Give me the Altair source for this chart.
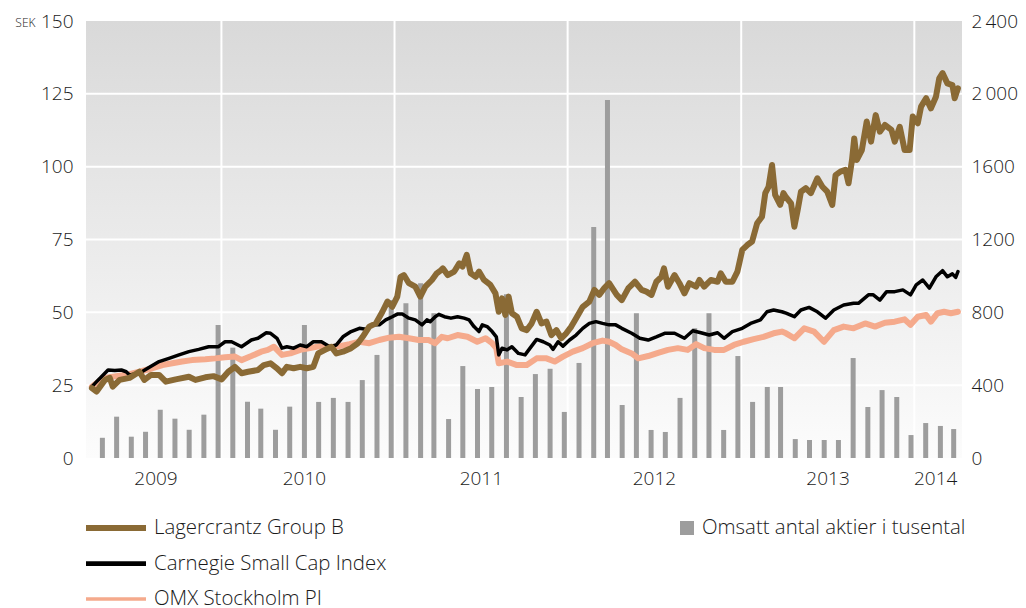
import altair as alt
import pandas as pd

FONT = "Open Sans"
FONT_WEIGHT = 300
TEXT_COLOR = "#1a1a1a"
TICK_FONT_SIZE = 19
LEGEND_FONT_SIZE = 20.4

SERIES = ["Lagercrantz Group B", "Carnegie Small Cap Index", "OMX Stockholm PI"]
COLORS = ["#8a6a35", "#000000", "#f5aa8c"]
LINE_WIDTHS = [6, 3.5, 6]
BAR_LABEL = "Omsatt antal aktier i tusental"

# (decimal year, SEK / index value)
LAGER = [
    (2009.252, 24.0), (2009.279, 22.8), (2009.327, 26.8), (2009.355, 27.5), (2009.372, 24.5),
    (2009.412, 26.8), (2009.469, 27.5), (2009.526, 29.6), (2009.555, 26.8), (2009.593, 28.5),
    (2009.640, 28.5), (2009.679, 26.2), (2009.736, 27.0), (2009.812, 27.9), (2009.850, 26.8),
    (2009.907, 27.7), (2009.954, 28.1), (2010.002, 27.0), (2010.040, 29.6), (2010.078, 31.3),
    (2010.116, 29.1), (2010.154, 29.6), (2010.211, 30.2), (2010.245, 31.9), (2010.284, 32.5),
    (2010.321, 30.8), (2010.350, 29.1), (2010.378, 31.3), (2010.417, 30.8), (2010.455, 31.3),
    (2010.493, 30.8), (2010.531, 31.3), (2010.559, 35.9), (2010.598, 37.1), (2010.635, 38.2),
    (2010.664, 35.9), (2010.702, 36.5), (2010.749, 37.7), (2010.788, 39.4), (2010.816, 41.6),
    (2010.854, 45.1), (2010.892, 46.2), (2010.930, 50.2), (2010.959, 53.7), (2010.987, 51.9),
    (2011.016, 55.4), (2011.035, 62.2), (2011.054, 62.8), (2011.083, 60.0), (2011.120, 58.8),
    (2011.149, 55.4), (2011.178, 58.8), (2011.216, 61.1), (2011.244, 63.4), (2011.269, 64.5),
    (2011.279, 65.1), (2011.307, 62.8), (2011.345, 64.0), (2011.374, 66.8), (2011.393, 65.7),
    (2011.417, 69.7), (2011.440, 63.4), (2011.469, 62.2), (2011.488, 64.0), (2011.517, 61.1),
    (2011.554, 59.4), (2011.583, 56.5), (2011.602, 50.2), (2011.621, 54.8), (2011.640, 49.1),
    (2011.659, 55.4), (2011.678, 49.7), (2011.707, 48.5), (2011.735, 44.5), (2011.764, 43.9),
    (2011.792, 46.2), (2011.821, 50.2), (2011.849, 46.2), (2011.878, 46.8), (2011.906, 42.2),
    (2011.935, 43.9), (2011.963, 41.1), (2011.992, 42.8), (2012.021, 45.1), (2012.049, 48.0),
    (2012.087, 51.9), (2012.125, 53.7), (2012.154, 57.7), (2012.182, 56.0), (2012.211, 58.3),
    (2012.239, 60.0), (2012.283, 56.0), (2012.312, 54.2), (2012.350, 58.3), (2012.388, 60.5),
    (2012.426, 57.7), (2012.454, 57.1), (2012.483, 56.0), (2012.511, 60.5), (2012.540, 62.2),
    (2012.555, 65.1), (2012.578, 58.8), (2012.616, 62.8), (2012.644, 60.0), (2012.673, 56.5),
    (2012.701, 60.0), (2012.740, 58.8), (2012.759, 61.1), (2012.787, 58.8), (2012.825, 61.1),
    (2012.864, 60.5), (2012.882, 63.4), (2012.911, 60.5), (2012.949, 60.5), (2012.978, 64.0),
    (2013.006, 71.4), (2013.035, 73.1), (2013.063, 74.3), (2013.092, 80.6), (2013.120, 82.8),
    (2013.139, 90.9), (2013.158, 93.1), (2013.178, 100.6), (2013.196, 90.3), (2013.225, 86.9),
    (2013.244, 90.9), (2013.259, 89.5), (2013.288, 87.4), (2013.307, 79.4), (2013.326, 85.1),
    (2013.345, 91.4), (2013.373, 92.6), (2013.402, 90.9), (2013.440, 96.0), (2013.469, 93.1),
    (2013.497, 91.4), (2013.526, 86.9), (2013.545, 97.1), (2013.573, 98.3), (2013.602, 98.9),
    (2013.620, 94.3), (2013.640, 102.3), (2013.653, 109.7), (2013.668, 102.3), (2013.697, 105.7),
    (2013.725, 115.5), (2013.750, 108.6), (2013.777, 117.7), (2013.801, 112.0), (2013.830, 114.3),
    (2013.868, 112.6), (2013.887, 108.6), (2013.916, 113.7), (2013.944, 105.7), (2013.973, 105.7),
    (2013.991, 117.2), (2014.020, 114.9), (2014.039, 120.6), (2014.068, 123.5), (2014.096, 120.0),
    (2014.125, 124.0), (2014.144, 130.3), (2014.163, 132.1), (2014.191, 128.6), (2014.220, 128.0),
    (2014.233, 123.5), (2014.252, 126.9),
]

CARNEGIE = [
    (2009.252, 24.5), (2009.279, 26.2), (2009.317, 28.5), (2009.345, 30.2), (2009.384, 30.0),
    (2009.422, 30.2), (2009.450, 29.6), (2009.469, 28.5), (2009.526, 29.1), (2009.574, 30.8),
    (2009.640, 33.1), (2009.697, 34.2), (2009.755, 35.4), (2009.812, 36.5), (2009.869, 37.3),
    (2009.926, 38.2), (2009.983, 38.2), (2010.021, 39.9), (2010.059, 39.9), (2010.116, 38.2),
    (2010.173, 40.5), (2010.211, 41.1), (2010.259, 43.0), (2010.284, 42.8), (2010.321, 41.1),
    (2010.350, 37.7), (2010.378, 38.2), (2010.417, 37.7), (2010.455, 38.8), (2010.493, 38.2),
    (2010.531, 39.9), (2010.578, 39.9), (2010.626, 38.2), (2010.664, 38.8), (2010.702, 41.6),
    (2010.749, 43.4), (2010.797, 44.5), (2010.835, 44.2), (2010.873, 45.7), (2010.912, 45.7),
    (2010.949, 47.4), (2010.987, 48.5), (2011.016, 49.4), (2011.045, 49.4), (2011.083, 48.0),
    (2011.120, 47.4), (2011.159, 45.7), (2011.187, 47.4), (2011.206, 46.8), (2011.235, 48.5),
    (2011.256, 49.3), (2011.288, 48.5), (2011.326, 48.0), (2011.364, 48.5), (2011.402, 48.0),
    (2011.431, 47.4), (2011.459, 45.1), (2011.488, 43.4), (2011.507, 45.7), (2011.535, 45.1),
    (2011.564, 43.4), (2011.588, 41.6), (2011.602, 35.4), (2011.621, 37.7), (2011.650, 37.1),
    (2011.678, 38.2), (2011.716, 35.9), (2011.754, 35.4), (2011.783, 37.7), (2011.821, 40.7),
    (2011.859, 39.9), (2011.897, 38.8), (2011.916, 37.3), (2011.945, 39.9), (2011.973, 38.4),
    (2012.011, 40.5), (2012.049, 42.2), (2012.087, 44.5), (2012.125, 46.2), (2012.163, 46.8),
    (2012.201, 46.2), (2012.239, 45.7), (2012.277, 45.7), (2012.312, 44.5), (2012.369, 42.8),
    (2012.416, 41.1), (2012.464, 40.5), (2012.511, 41.6), (2012.559, 42.8), (2012.616, 42.8),
    (2012.673, 41.1), (2012.721, 43.7), (2012.768, 43.0), (2012.816, 42.2), (2012.864, 43.0),
    (2012.901, 41.1), (2012.949, 43.4), (2013.006, 44.5), (2013.054, 46.2), (2013.111, 47.4),
    (2013.149, 50.2), (2013.187, 50.8), (2013.235, 50.2), (2013.259, 49.7), (2013.307, 48.5),
    (2013.345, 50.8), (2013.392, 51.7), (2013.440, 50.2), (2013.487, 48.0), (2013.535, 50.8),
    (2013.592, 52.5), (2013.649, 53.1), (2013.677, 53.1), (2013.735, 56.0), (2013.763, 56.0),
    (2013.801, 54.2), (2013.840, 57.1), (2013.887, 57.1), (2013.934, 57.7), (2013.978, 56.0),
    (2014.011, 59.4), (2014.049, 61.1), (2014.087, 58.3), (2014.125, 62.2), (2014.163, 64.3),
    (2014.191, 62.2), (2014.220, 63.2), (2014.239, 62.0), (2014.252, 64.0),
]

OMX = [
    (2009.252, 24.5), (2009.317, 27.4), (2009.393, 28.1), (2009.469, 28.8), (2009.526, 29.6),
    (2009.602, 30.8), (2009.659, 31.9), (2009.716, 32.5), (2009.773, 33.1), (2009.830, 33.6),
    (2009.907, 33.9), (2009.964, 34.2), (2010.021, 34.6), (2010.078, 34.8), (2010.116, 33.6),
    (2010.173, 35.0), (2010.230, 36.5), (2010.268, 37.1), (2010.303, 38.2), (2010.350, 35.4),
    (2010.398, 35.9), (2010.455, 37.1), (2010.512, 37.7), (2010.569, 38.4), (2010.626, 38.0),
    (2010.683, 38.4), (2010.740, 39.1), (2010.797, 39.9), (2010.854, 39.4), (2010.912, 40.5),
    (2010.969, 41.3), (2011.026, 41.6), (2011.083, 41.1), (2011.140, 40.5), (2011.197, 40.5),
    (2011.235, 39.4), (2011.273, 41.6), (2011.307, 41.1), (2011.364, 42.2), (2011.421, 41.6),
    (2011.478, 39.9), (2011.526, 41.1), (2011.564, 39.4), (2011.588, 37.7), (2011.602, 32.5),
    (2011.650, 33.1), (2011.707, 31.9), (2011.764, 31.9), (2011.821, 34.2), (2011.878, 34.2),
    (2011.925, 33.1), (2011.973, 34.8), (2012.030, 36.5), (2012.087, 37.7), (2012.144, 39.4),
    (2012.201, 40.3), (2012.239, 39.9), (2012.277, 38.8), (2012.312, 37.3), (2012.369, 35.9),
    (2012.407, 34.2), (2012.464, 35.0), (2012.521, 36.1), (2012.578, 37.1), (2012.635, 37.7),
    (2012.692, 37.1), (2012.740, 39.1), (2012.787, 37.7), (2012.844, 37.1), (2012.901, 37.1),
    (2012.958, 38.8), (2013.015, 39.9), (2013.072, 40.8), (2013.129, 41.6), (2013.187, 42.8),
    (2013.235, 43.4), (2013.259, 42.8), (2013.307, 41.1), (2013.364, 44.5), (2013.421, 43.4),
    (2013.478, 39.9), (2013.535, 43.9), (2013.592, 45.1), (2013.649, 44.5), (2013.716, 46.2),
    (2013.773, 45.1), (2013.830, 46.4), (2013.887, 46.8), (2013.944, 47.6), (2013.978, 45.7),
    (2014.020, 48.5), (2014.068, 49.1), (2014.096, 46.8), (2014.134, 49.7), (2014.172, 50.2),
    (2014.211, 49.7), (2014.252, 50.2),
]

# monthly traded volume (thousand shares), April 2009 - March 2014
VOL_FIRST_MONTH = "2009-04-01"
VOLUMES = [
    111, 227, 117, 144, 265, 216, 155, 238, 730,
    606, 309, 271, 155, 282, 730, 308, 330, 308, 428, 566, 868,
    850, 960, 795, 214, 505, 379, 390, 900, 335, 461, 490, 253,
    522, 1268, 1966, 291, 795, 154, 143, 330, 712, 795, 154, 560,
    308, 390, 390, 104, 99, 99, 99, 549, 280, 373, 335, 126,
    192, 176, 159,
]

YEAR_BOUNDS = ["2010-01-01", "2011-01-01", "2012-01-01", "2013-01-01", "2014-01-01"]
YEAR_LABEL_POS = [(2009, 8, 15), (2010, 6, 24), (2011, 7, 2), (2012, 7, 1), (2013, 7, 2), (2014, 2, 14)]
PRICE_TICKS = [0, 25, 50, 75, 100, 125, 150]
VOLUME_TICKS = [0, 400, 800, 1200, 1600, 2000, 2400]


def dec_to_iso(t):
    y = int(t)
    start = pd.Timestamp(year=y, month=1, day=1)
    end = pd.Timestamp(year=y + 1, month=1, day=1)
    return (start + (end - start) * (t - y)).strftime("%Y-%m-%dT%H:%M:%S")


def series_df(pairs):
    return pd.DataFrame({"date": [dec_to_iso(t) for t, _ in pairs], "value": [v for _, v in pairs]})


vol_dates = pd.date_range(VOL_FIRST_MONTH, periods=len(VOLUMES), freq="MS") + pd.Timedelta(days=24)
vol_df = pd.DataFrame({"date": vol_dates.strftime("%Y-%m-%dT%H:%M:%S"), "vol": VOLUMES})

W, H = 876, 437
x_scale = alt.Scale(domain=[alt.DateTime(year=2009, month=4, date=1), alt.DateTime(year=2014, month=4, date=1)])
price_scale = alt.Scale(domain=[0, 150])

X_AXIS = alt.Axis(
    values=[alt.DateTime(year=y, month=m, date=d) for y, m, d in YEAR_LABEL_POS],
    format="%Y", ticks=False, domain=False, grid=False, labelPadding=11,
    labelFontSize=TICK_FONT_SIZE, labelFont=FONT, labelFontWeight=FONT_WEIGHT, labelColor=TEXT_COLOR, title=None,
)
PRICE_AXIS = alt.Axis(
    values=PRICE_TICKS, ticks=False, domain=False, grid=False, labelPadding=13,
    labelFontSize=TICK_FONT_SIZE, labelFont=FONT, labelFontWeight=FONT_WEIGHT, labelColor=TEXT_COLOR,
    title="SEK", titleAngle=0, titleX=-51, titleY=1, titleAlign="right", titleBaseline="middle",
    titleFontSize=12, titleFont=FONT, titleFontWeight=FONT_WEIGHT, titleColor=TEXT_COLOR,
)
VOLUME_AXIS = alt.Axis(
    orient="right", values=VOLUME_TICKS, ticks=False, domain=False, grid=False,
    labelPadding=9, labelFontSize=TICK_FONT_SIZE, labelFont=FONT, labelFontWeight=FONT_WEIGHT,
    labelColor=TEXT_COLOR, title=None,
    labelExpr="datum.value >= 2000 ? replace(format(datum.value, ','), ',', '\u2006') : format(datum.value, 'd')",
)

bg = alt.Chart(alt.Data(values=[{}])).mark_rect(
    fill=alt.Gradient(
        gradient="linear",
        stops=[alt.GradientStop(color="#d9d9d9", offset=0), alt.GradientStop(color="#fcfcfc", offset=1)],
        x1=0, x2=0, y1=0, y2=1,
    )
).encode(x=alt.value(0), x2=alt.value(W), y=alt.value(0), y2=alt.value(H))

vgrid = alt.Chart(pd.DataFrame({"date": YEAR_BOUNDS})).mark_rule(color="white", strokeWidth=2).encode(
    x=alt.X("date:T", scale=x_scale, axis=X_AXIS)
)

hgrid = alt.Chart(pd.DataFrame({"v": PRICE_TICKS[1:-1]})).mark_rule(color="white", strokeWidth=2).encode(
    y=alt.Y("v:Q", scale=price_scale, axis=None)
)

bars = alt.Chart(vol_df).mark_bar(size=5, color="#9d9d9d").encode(
    x=alt.X("date:T", scale=x_scale, axis=X_AXIS),
    y=alt.Y("vol:Q", scale=alt.Scale(domain=[0, 2400]), axis=VOLUME_AXIS),
)

line_layers = []
for name, pairs in [(SERIES[2], OMX), (SERIES[1], CARNEGIE), (SERIES[0], LAGER)]:
    idx = SERIES.index(name)
    line_layers.append(
        alt.Chart(series_df(pairs)).mark_line(
            color=COLORS[idx], strokeWidth=LINE_WIDTHS[idx], strokeJoin="round", strokeCap="round"
        ).encode(
            x=alt.X("date:T", scale=x_scale, axis=X_AXIS),
            y=alt.Y("value:Q", scale=price_scale, axis=PRICE_AXIS),
        )
    )
lines = alt.layer(*line_layers)

leg_df = pd.DataFrame({"series": SERIES})
leg_y = alt.Y("series:N", scale=alt.Scale(type="point", domain=SERIES, range=[507, 578], padding=0), axis=None)
leg_rules = alt.Chart(leg_df).mark_rule().encode(
    x=alt.value(0), x2=alt.value(60), y=leg_y,
    color=alt.Color("series:N", scale=alt.Scale(domain=SERIES, range=COLORS), legend=None),
    strokeWidth=alt.StrokeWidth("series:O", scale=alt.Scale(domain=SERIES, range=[6, 3.5, 6]), legend=None),
)
leg_text = alt.Chart(leg_df).mark_text(
    align="left", baseline="middle", fontSize=LEGEND_FONT_SIZE, font=FONT, fontWeight=FONT_WEIGHT,
    color=TEXT_COLOR,
).encode(x=alt.value(68), y=leg_y, text="series:N")
legend_lines = alt.layer(leg_rules, leg_text)

bar_leg_df = pd.DataFrame({"label": [BAR_LABEL]})
bar_leg_sq = alt.Chart(bar_leg_df).mark_square(size=196, color="#9d9d9d", opacity=1).encode(
    x=alt.value(601), y=alt.value(507)
)
bar_leg_text = alt.Chart(bar_leg_df).mark_text(
    align="left", baseline="middle", fontSize=LEGEND_FONT_SIZE, font=FONT, fontWeight=FONT_WEIGHT,
    color=TEXT_COLOR,
).encode(x=alt.value(616), y=alt.value(507), text="label:N")

chart = alt.layer(bg, vgrid, hgrid, bars, lines, legend_lines, bar_leg_sq, bar_leg_text).resolve_scale(
    y="independent"
).properties(
    width=W, height=H,
    autosize=alt.AutoSizeParams(type="none"),
    padding={"left": 78, "top": 13, "right": 56, "bottom": 160},
    background="white",
).configure_view(stroke=None)

chart.save("out.html", embed_options={"renderer": "svg", "actions": False})
